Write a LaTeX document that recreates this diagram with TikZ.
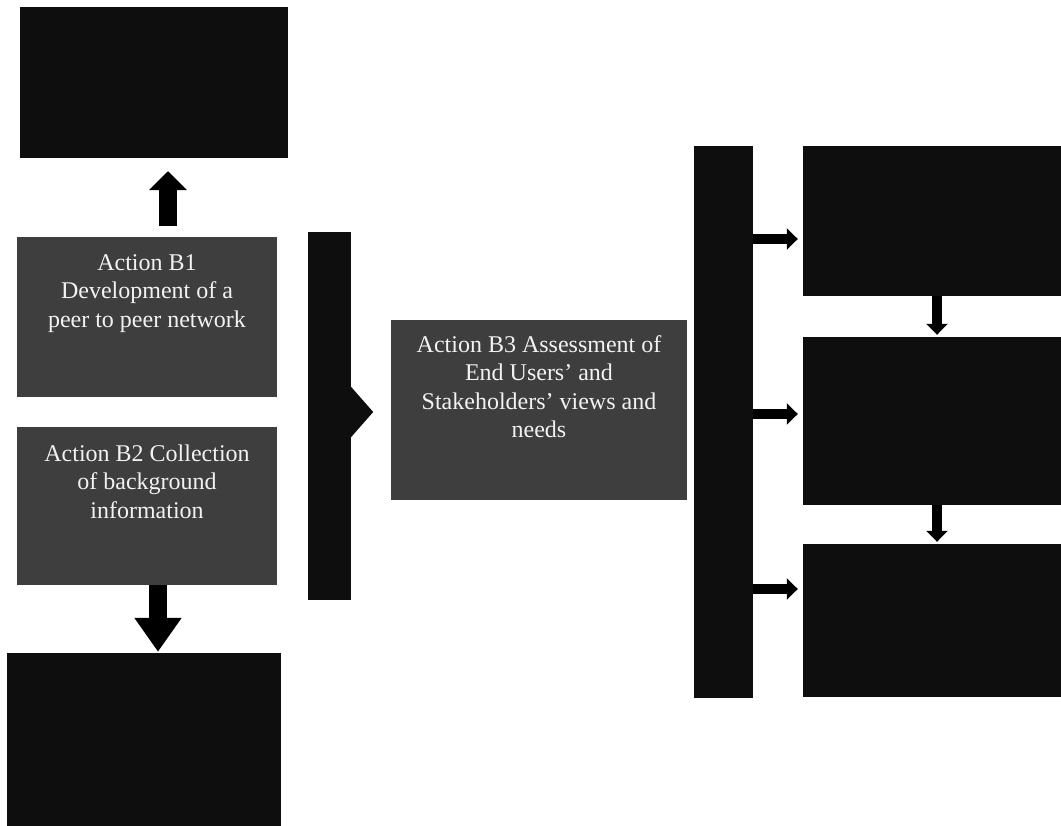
\documentclass[tikz,border=0pt]{standalone}
\usepackage{fontspec}
\setmainfont{Liberation Serif}
\usetikzlibrary{arrows.meta}
\definecolor{boxblack}{HTML}{0E0E0E}
\definecolor{boxgray}{HTML}{3E3E3E}
\definecolor{txtwhite}{HTML}{F2F2F2}
\begin{document}
\begin{tikzpicture}[x=1pt,y=-1pt,
  darkbox/.style={fill=boxblack,draw=none,inner sep=0pt,minimum width=#1},
  graybox/.style={fill=boxgray,draw=none,inner sep=0pt},
  boxtxt/.style={anchor=north,inner sep=0pt,align=center,text=txtwhite,
     font=\fontsize{24}{28.5}\selectfont},
  bigarrow/.style={draw=black,line width=18pt,-{Triangle[length=#1]}},
  smallarrow/.style={draw=black,line width=10.5pt,-{Triangle[length=11pt,width=21pt]}}
]
\fill[white] (0,0) rectangle (1061,826);
\useasboundingbox (0,0) rectangle (1061,826);

% left column
\node[darkbox=268pt,minimum height=151pt] (top) at (154,82.5) {};
\node[graybox,minimum width=260pt,minimum height=160pt] (b1) at (147,317) {};
\node[graybox,minimum width=260pt,minimum height=158pt] (b2) at (147,506) {};
\node[darkbox=274pt,minimum height=174pt] (bot) at (144,740) {};

\node[boxtxt] (t1) at ([yshift=-17.6pt]b1.north) {Action B1\\Development of a\\peer to peer network};
\node[boxtxt] (t2) at ([yshift=-17.6pt]b2.north) {Action B2 Collection\\of background\\information};

% arrows in left column
\draw[draw=black,line width=18pt,-{Triangle[length=19pt,width=37pt]}]
  ([xshift=21pt,yshift=11pt]b1.north) -- ([xshift=14pt,yshift=-13pt]top.south);
\draw[draw=black,line width=18pt,-{Triangle[length=34pt,width=45pt]}]
  ([xshift=11pt]b2.south) -- ([xshift=14pt,yshift=1pt]bot.north);

% first vertical bar with chevron
\node[darkbox=43pt,minimum height=368pt] (bar1) at (329.5,416) {};
\fill[boxblack] ([yshift=29pt]bar1.east) -- ([xshift=22pt,yshift=4pt]bar1.east)
  -- ([yshift=-21pt]bar1.east) -- cycle;

% B3
\node[graybox,minimum width=296pt,minimum height=180pt] (b3) at (539,410) {};
\node[boxtxt] (t3) at ([yshift=-15.6pt]b3.north) {Action B3 Assessment of\\End Users' and\\Stakeholders' views and\\needs};

% second vertical bar
\node[darkbox=59pt,minimum height=552pt] (bar2) at (723.5,422) {};

% right column
\node[darkbox=262pt,minimum height=150pt] (r1) at (934,221) {};
\node[darkbox=262pt,minimum height=168pt] (r2) at (934,421) {};
\node[darkbox=262pt,minimum height=153pt] (r3) at (934,620.5) {};

\coordinate (a1) at ([xshift=-5pt,yshift=-18pt]r1.west);
\coordinate (a2) at ([xshift=-5pt,yshift=7pt]r2.west);
\coordinate (a3) at ([xshift=-5pt,yshift=31.5pt]r3.west);
\draw[smallarrow] (bar2.east |- a1) -- (a1);
\draw[smallarrow] (bar2.east |- a2) -- (a2);
\draw[smallarrow] (bar2.east |- a3) -- (a3);

\draw[smallarrow] ([xshift=3pt]r1.south) -- ([xshift=3pt,yshift=2pt]r2.north);
\draw[smallarrow] ([xshift=3pt]r2.south) -- ([xshift=3pt,yshift=2pt]r3.north);
\end{tikzpicture}
\end{document}
